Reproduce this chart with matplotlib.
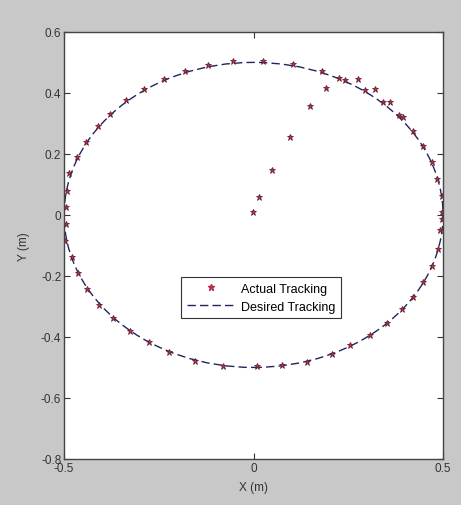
import numpy as np
from matplotlib import pyplot as plt
from matplotlib.patches import Circle
from matplotlib.lines import Line2D

plt.rcParams['font.family'] = ['Liberation Sans', 'DejaVu Sans']

# desired trajectory: circle centred at origin
circle_center = (0.0, 0.0)
circle_radius = 0.5

# actual tracking points (m)
actual_x = [-0.001, 0.015, 0.048, 0.096, 0.149, 0.190, 0.275, 0.321,
            0.024, 0.103, 0.180, 0.226, 0.241, 0.294, 0.342, 0.360, 0.384, 0.395,
            0.422, 0.446, 0.470, 0.485, 0.497, 0.498, 0.497, 0.492, 0.488,
            0.470, 0.446, 0.422, 0.391, 0.351, 0.307, 0.255, 0.206, 0.142,
            0.074, 0.008, -0.080, -0.154, -0.222, -0.277, -0.326, -0.370,
            -0.408, -0.440, -0.464, -0.480, -0.497, -0.496, -0.496, -0.493,
            -0.486, -0.467, -0.442, -0.411, -0.379, -0.336, -0.289, -0.236,
            -0.181, -0.121, -0.053]
actual_y = [0.009, 0.058, 0.148, 0.255, 0.356, 0.415, 0.446, 0.412,
            0.504, 0.496, 0.471, 0.448, 0.443, 0.411, 0.371, 0.370, 0.328, 0.322,
            0.274, 0.227, 0.173, 0.118, 0.063, 0.009, -0.013, -0.051, -0.111,
            -0.166, -0.219, -0.268, -0.308, -0.355, -0.393, -0.428, -0.456, -0.481,
            -0.492, -0.494, -0.494, -0.478, -0.450, -0.417, -0.380, -0.339,
            -0.294, -0.244, -0.192, -0.139, -0.084, -0.030, 0.027, 0.079,
            0.137, 0.189, 0.240, 0.290, 0.331, 0.377, 0.412, 0.445,
            0.472, 0.493, 0.504]

x_ticks = [-0.5, 0, 0.5]
x_ticklabels = ['-0.5', '0', '0.5']
y_ticks = [-0.8, -0.6, -0.4, -0.2, 0, 0.2, 0.4, 0.6]
y_ticklabels = ['-0.8', '-0.6', '-0.4', '-0.2', '0', '0.2', '0.4', '0.6']

fig = plt.figure(figsize=(4.61, 5.06), dpi=100, facecolor='#c8c8c8')
ax = fig.add_axes([0.139, 0.091, 0.822, 0.844])
ax.set_facecolor('white')

line_col = '#23235e'
mark_col = '#b8304a'
ax.add_patch(Circle(circle_center, circle_radius, fill=False, edgecolor=line_col,
                    linestyle=(0, (6, 3)), linewidth=1.0))
ax.plot(actual_x, actual_y, linestyle='none', marker='*', markersize=5,
        color=mark_col, markeredgecolor='#6a2035', markeredgewidth=0.6)

ax.set_xlim(-0.5, 0.5)
ax.set_ylim(-0.8, 0.6)
ax.set_xticks(x_ticks)
ax.set_xticklabels(x_ticklabels)
ax.set_yticks(y_ticks)
ax.set_yticklabels(y_ticklabels)
ax.tick_params(direction='in', top=True, right=True, length=4, labelsize=8.5,
               colors='#333333', pad=2)
for s in ax.spines.values():
    s.set_color('#444444')
    s.set_linewidth(1.0)

ax.set_xlabel('X (m)', fontsize=8.5, color='#333333', labelpad=5)
ax.set_ylabel('Y (m)', fontsize=8.5, color='#333333', labelpad=8)

handles = [Line2D([], [], linestyle='none', marker='*', markersize=5, color=mark_col),
           Line2D([], [], linestyle=(0, (6, 3)), color=line_col, linewidth=1.0)]
leg = ax.legend(handles, ['Actual Tracking', 'Desired Tracking'], loc='lower left',
                bbox_to_anchor=(0.309, 0.329), fontsize=9, fancybox=False,
                framealpha=1, edgecolor='#333333', borderpad=0.45, labelspacing=0.5,
                handlelength=3.8, handletextpad=0.5, borderaxespad=0)
leg.get_frame().set_linewidth(0.8)

fig.savefig('out.png', dpi=100, facecolor=fig.get_facecolor())
